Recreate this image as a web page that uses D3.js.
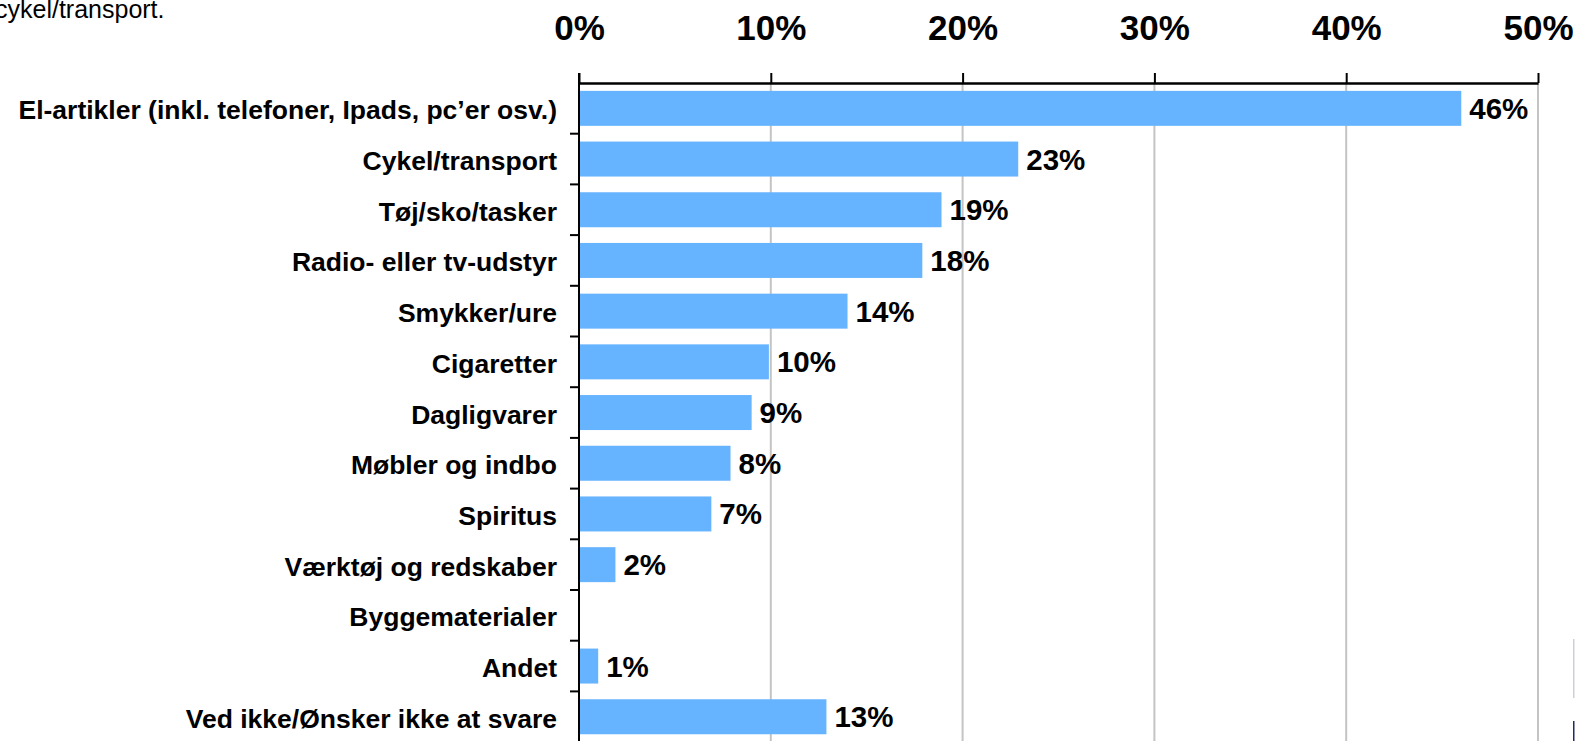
<!DOCTYPE html>
<html>
<head>
<meta charset="utf-8">
<script src="https://cdn.jsdelivr.net/npm/d3@7"></script>
<style>
    html, body { margin: 0; padding: 0; background: #fff; overflow: hidden; }
    svg { display: block; font-family: "Liberation Sans", Arial, sans-serif; }
</style>
</head>
<body>
<svg id="chart" width="1575" height="741"></svg>
<script>
// data
const categories = [
    "El-artikler (inkl. telefoner, Ipads, pc’er osv.)",
    "Cykel/transport",
    "Tøj/sko/tasker",
    "Radio- eller tv-udstyr",
    "Smykker/ure",
    "Cigaretter",
    "Dagligvarer",
    "Møbler og indbo",
    "Spiritus",
    "Værktøj og redskaber",
    "Byggematerialer",
    "Andet",
    "Ved ikke/Ønsker ikke at svare"
];
const values = [46.0, 22.9, 18.9, 17.9, 14.0, 9.9, 9.0, 7.9, 6.9, 1.9, 0, 1.0, 12.9];
const valueLabels = ["46%", "23%", "19%", "18%", "14%", "10%", "9%", "8%", "7%", "2%", "", "1%", "13%"];
const xTicks = [0, 10, 20, 30, 40, 50];
const noteText = "cykel/transport.";

const svg = d3.select("#chart");
const width = 1575, height = 741;

// plot area
const plotLeft = 579, plotRight = 1538, plotTop = 83;
const step = 50.7;
const plotBottom = plotTop + step * categories.length;

const x = d3.scaleLinear().domain([0, 50]).range([plotLeft, plotRight]);
const y = d3.scaleBand()
    .domain(categories)
    .range([plotTop, plotBottom])
    .paddingInner(0.31)
    .paddingOuter(0.155);

// text left over from the slide above the chart (cut off at the edge, as in the original)
svg.append("text")
    .attr("x", -5)
    .attr("y", 17.5)
    .attr("font-size", 25)
    .attr("fill", "#000")
    .text(noteText);

// gridlines
svg.append("g")
    .selectAll("line")
    .data(xTicks.filter(d => d > 0))
    .join("line")
    .attr("x1", d => x(d))
    .attr("x2", d => x(d))
    .attr("y1", plotTop)
    .attr("y2", height)
    .attr("stroke", "#c4c4c4")
    .attr("stroke-width", 2);

// bars
svg.append("g")
    .selectAll("rect")
    .data(values)
    .join("rect")
    .attr("x", x(0))
    .attr("y", (d, i) => y(categories[i]))
    .attr("width", d => x(d) - x(0))
    .attr("height", y.bandwidth())
    .attr("fill", "#66b3ff");

// value labels
svg.append("g")
    .selectAll("text")
    .data(values)
    .join("text")
    .attr("x", d => x(d) + 8)
    .attr("y", (d, i) => y(categories[i]) + y.bandwidth() / 2 + 10.5)
    .attr("font-size", 29.5)
    .attr("font-weight", "bold")
    .text((d, i) => valueLabels[i]);

// top axis
const xAxis = svg.append("g")
    .attr("transform", `translate(0,${plotTop})`)
    .call(d3.axisTop(x)
        .tickValues(xTicks)
        .tickFormat(d => d + "%")
        .tickSize(10)
        .tickSizeOuter(0)
        .tickPadding(33));
xAxis.select(".domain").attr("stroke", "#000").attr("stroke-width", 2.5);
xAxis.selectAll(".tick line").attr("stroke", "#000").attr("stroke-width", 2);
xAxis.selectAll(".tick text")
    .attr("fill", "#000")
    .attr("font-size", 35)
    .attr("font-weight", "bold")
    .attr("font-family", "'Liberation Sans', Arial, sans-serif");

// left axis: line plus ticks on the category boundaries
const yAxis = svg.append("g");
yAxis.append("line")
    .attr("x1", plotLeft).attr("x2", plotLeft)
    .attr("y1", plotTop - 10).attr("y2", height)
    .attr("stroke", "#000")
    .attr("stroke-width", 2);
yAxis.selectAll(".btick")
    .data(d3.range(1, categories.length))
    .join("line")
    .attr("class", "btick")
    .attr("x1", plotLeft - 9).attr("x2", plotLeft)
    .attr("y1", i => plotTop + i * y.step())
    .attr("y2", i => plotTop + i * y.step())
    .attr("stroke", "#000")
    .attr("stroke-width", 2);

// category labels
yAxis.selectAll(".cat")
    .data(categories)
    .join("text")
    .attr("class", "cat")
    .attr("x", 557)
    .attr("y", d => y(d) + y.bandwidth() / 2 + 11)
    .attr("text-anchor", "end")
    .attr("font-size", 26.5)
    .attr("font-weight", "bold")
    .text(d => d);

// bits of another object cut off at the right edge
svg.append("rect").attr("x", 1573).attr("y", 639).attr("width", 1.5).attr("height", 59).attr("fill", "#d0d0d8");
svg.append("rect").attr("x", 1573).attr("y", 721).attr("width", 1.5).attr("height", 20).attr("fill", "#1f2a6b");
</script>
</body>
</html>
